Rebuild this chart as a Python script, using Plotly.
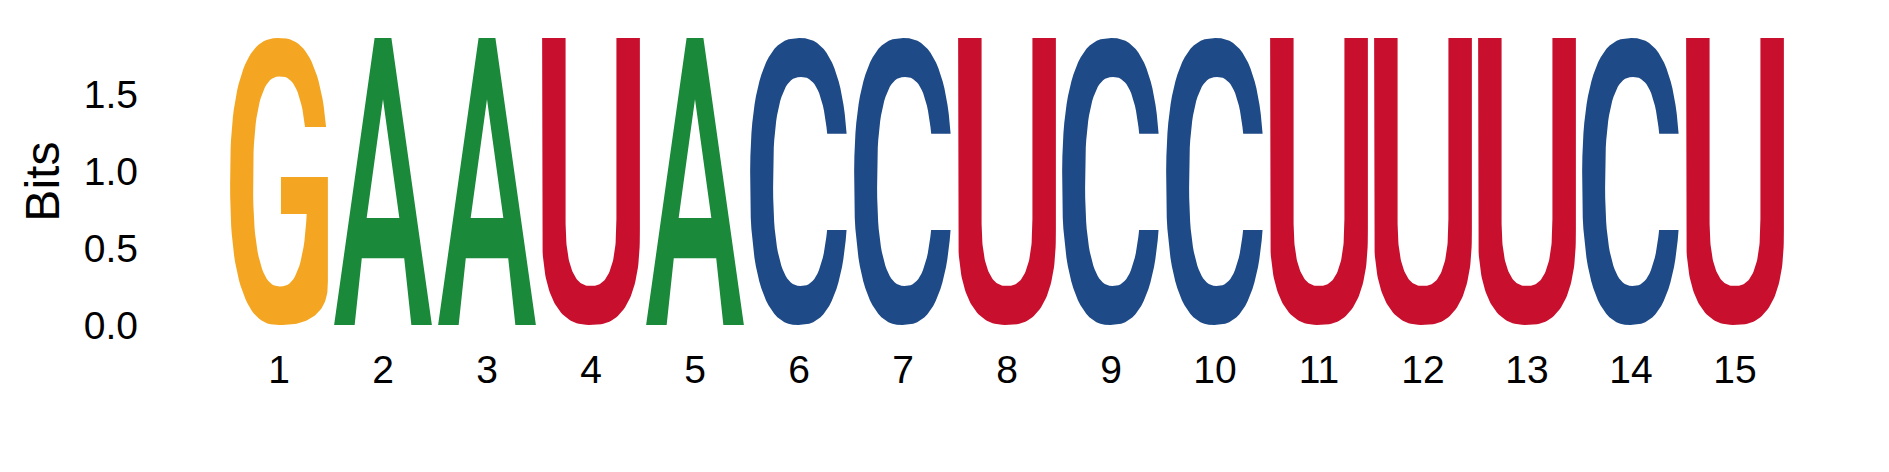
import numpy as np
import plotly.graph_objects as go

# -----------------------------
# Sequence logo data
# -----------------------------
positions = list(range(1, 16))
bases = ['G', 'A', 'A', 'U', 'A', 'C', 'C', 'U', 'C', 'C', 'U', 'U', 'U', 'C', 'U']
bits = [1.87, 1.87, 1.87, 1.87, 1.87, 1.87, 1.87, 1.87, 1.87, 1.87, 1.87, 1.87, 1.87, 1.87, 1.87]
y_ticks = [0.0, 0.5, 1.0, 1.5]

colors = {'G': '#F4A623', 'A': '#1A8939', 'U': '#C8102E', 'C': '#1E4A87'}
letter_width = 0.94


# -----------------------------
# Glyph outlines in a unit box
# -----------------------------
def arc(cx, cy, a, b, t0, t1, n=2.5, k=80):
    t = np.linspace(t0, t1, k)
    c, s = np.cos(t), np.sin(t)
    u = cx + a * np.sign(c) * np.abs(c) ** (2 / n)
    v = cy + b * np.sign(s) * np.abs(s) ** (2 / n)
    return list(u), list(v)


def angle_at(v, cy, b, n=2.5):
    d = (v - cy) / b
    return np.arcsin(np.sign(d) * abs(d) ** (n / 2))


def glyph_C():
    t1 = angle_at(0.666, 0.5, 0.5)
    t2 = angle_at(0.331, 0.5, 0.5) + 2 * np.pi
    ou, ov = arc(0.5, 0.5, 0.5, 0.5, t1, t2)
    i1 = angle_at(0.666, 0.5, 0.364)
    i2 = angle_at(0.331, 0.5, 0.364) + 2 * np.pi
    iu, iv = arc(0.52, 0.5, 0.285, 0.364, i2, i1)
    return ou + iu, ov + iv


def glyph_G():
    t1 = angle_at(0.69, 0.5, 0.5)
    ou, ov = arc(0.5, 0.5, 0.5, 0.5, t1, 1.5 * np.pi)
    su, sv = arc(0.5, 0.15, 0.5, 0.15, 1.5 * np.pi, 2 * np.pi, k=40)
    bar_u = [1.0, 0.52, 0.52, 0.79]
    bar_v = [0.516, 0.516, 0.387, 0.387]
    ia = angle_at(0.387, 0.5, 0.366)
    ib = angle_at(0.69, 0.5, 0.366) - 2 * np.pi
    iu, iv = arc(0.512, 0.5, 0.277, 0.366, ia, ib)
    return ou + su + bar_u + iu, ov + sv + bar_v + iv


def glyph_U():
    ou, ov = arc(0.5, 0.33, 0.5, 0.33, np.pi, 2 * np.pi)
    iu, iv = arc(0.5, 0.37, 0.26, 0.234, 2 * np.pi, np.pi)
    u = [0.0] + ou + [1.0, 0.76] + iu + [0.24]
    v = [1.0] + ov + [1.0, 1.0] + iv + [1.0]
    return u, v


def glyph_A():
    u = [0.0, 0.21, 0.283, 0.717, 0.79, 1.0, 0.586, 0.5, 0.5, 0.667, 0.333, 0.5, 0.5, 0.414]
    v = [0.0, 0.0, 0.233, 0.233, 0.0, 0.0, 1.0, 1.0, 0.787, 0.373, 0.373, 0.787, 1.0, 1.0]
    return u, v


glyphs = {'G': glyph_G(), 'A': glyph_A(), 'U': glyph_U(), 'C': glyph_C()}

# -----------------------------
# Build figure
# -----------------------------
fig = go.Figure()

for base in ['G', 'A', 'U', 'C']:
    xs, ys = [], []
    gu, gv = glyphs[base]
    for pos, b, h in zip(positions, bases, bits):
        if b != base:
            continue
        xs += [pos - letter_width / 2 + u * letter_width for u in gu] + [None]
        ys += [v * h for v in gv] + [None]
    fig.add_trace(go.Scatter(
        x=xs, y=ys, mode='lines', fill='toself',
        fillcolor=colors[base], line=dict(width=0, color=colors[base]),
        hoverinfo='skip', showlegend=False
    ))

fig.add_annotation(
    text='Bits', xref='paper', yref='paper', x=-0.1185, y=0.5,
    xanchor='center', yanchor='middle', textangle=-90, showarrow=False,
    font=dict(family='Liberation Sans, Arial', size=48, color='black')
)

# page body adds an 8px offset, so margins are shifted by that amount
fig.update_layout(
    width=1889, height=472,
    margin=dict(l=219, r=110, t=30, b=155),
    plot_bgcolor='white', paper_bgcolor='white',
    font=dict(family='Liberation Sans, Arial', size=39, color='black'),
    xaxis=dict(range=[0.5, 15.5], tickmode='array', tickvals=positions,
               ticktext=[str(p) for p in positions], showgrid=False,
               zeroline=False, showline=False, ticks='', ticklabelstandoff=18),
    yaxis=dict(range=[0, 1.87], tickmode='array', tickvals=y_ticks,
               tickformat='.1f', showgrid=False, zeroline=False,
               showline=False, ticks='', ticklabelstandoff=88),
)

fig.write_html('out.html')
